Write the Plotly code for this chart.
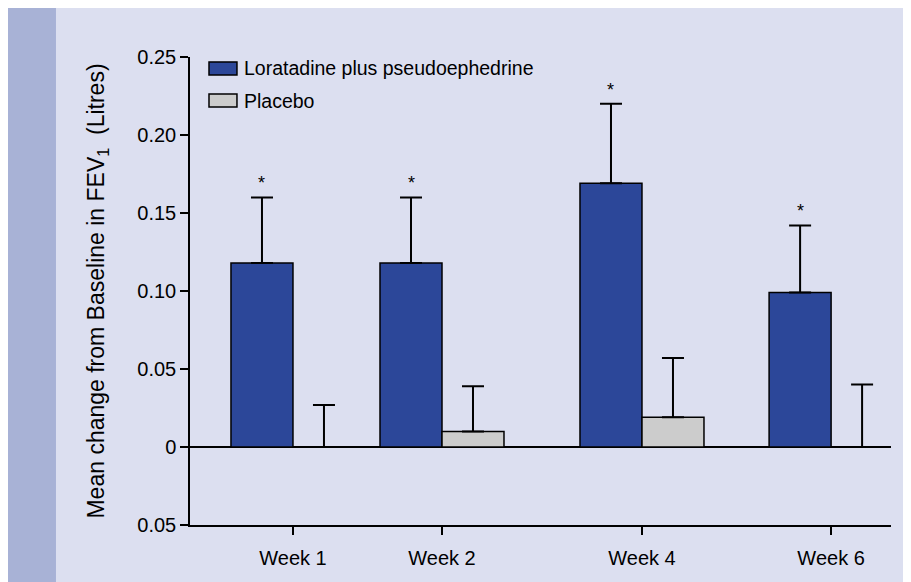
import plotly.graph_objects as go

weeks = ["Week 1", "Week 2", "Week 4", "Week 6"]
loratadine = [0.118, 0.118, 0.169, 0.099]
loratadine_err = [0.042, 0.042, 0.051, 0.043]
placebo = [0.0, 0.010, 0.019, 0.0]
placebo_err = [0.027, 0.029, 0.038, 0.040]
significant = [True, True, True, True]

y_tickvals = [-0.05, 0, 0.05, 0.10, 0.15, 0.20, 0.25]
y_ticktext = ["0.05", "0", "0.05", "0.10", "0.15", "0.20", "0.25"]

# group positions along x (weeks are not evenly spaced in the original)
week_pos = [1, 2, 3.342, 4.611]
bar_w = 0.416

BLUE = "#2c4799"
GREY = "#cccccc"
BG = "#dcdff0"
STRIP = "#a8b2d6"
FONT = "Liberation Sans, Arial, sans-serif"

fig = go.Figure()

fig.add_trace(go.Bar(
    x=week_pos, y=loratadine, width=bar_w, offset=-bar_w,
    name="Loratadine plus pseudoephedrine",
    marker=dict(color=BLUE, line=dict(color="black", width=1.5)),
    error_y=dict(type="data", symmetric=False, array=loratadine_err,
                 arrayminus=[0] * len(loratadine_err),
                 color="black", thickness=2, width=11),
))

fig.add_trace(go.Bar(
    x=week_pos, y=placebo, width=bar_w, offset=0,
    name="Placebo",
    marker=dict(color=GREY, line=dict(color="black", width=1.5)),
    error_y=dict(type="data", symmetric=False, array=placebo_err,
                 arrayminus=[0] * len(placebo_err),
                 color="black", thickness=2, width=11),
))

# significance stars above the active-treatment error bars
for p, v, e, s in zip(week_pos, loratadine, loratadine_err, significant):
    if s:
        fig.add_annotation(x=p - bar_w / 2, y=v + e, text="*", showarrow=False,
                           yanchor="bottom", yshift=2,
                           font=dict(size=18, color="black", family=FONT))

# darker strip on the left
shapes = [
    dict(type="rect", xref="paper", yref="paper", x0=-0.27, x1=-0.1912, y0=-0.2, y1=1.2,
         fillcolor=STRIP, line_width=0, layer="below"),
]

# custom legend with wide swatches
legend_items = [("Loratadine plus pseudoephedrine", BLUE), ("Placebo", GREY)]
for i, (label, col) in enumerate(legend_items):
    yc = 0.9755 - i * 0.0685
    shapes.append(dict(type="rect", xref="paper", yref="paper",
                       x0=0.0271, x1=0.067, y0=yc - 0.014, y1=yc + 0.014,
                       fillcolor=col, line=dict(color="black", width=1.5)))
    fig.add_annotation(xref="paper", yref="paper", x=0.0742, y=yc, text=label,
                       showarrow=False, xanchor="left", yanchor="middle",
                       font=dict(size=19.5, color="black", family=FONT))

fig.update_layout(
    width=911, height=582,
    margin=dict(l=182, r=28, t=49, b=65),
    paper_bgcolor=BG, plot_bgcolor=BG,
    barmode="overlay", showlegend=False,
    shapes=shapes,
    font=dict(family=FONT, color="black", size=20),
)

fig.update_xaxes(
    range=[0.309, 5.013], tickvals=week_pos, ticktext=weeks,
    showgrid=False, zeroline=False, showline=True, linecolor="black", linewidth=1.5,
    ticks="outside", ticklen=8, tickwidth=1.5, tickcolor="black",
    tickfont=dict(size=20), ticklabelstandoff=6,
)

fig.update_yaxes(
    range=[-0.05, 0.25], tickvals=y_tickvals, ticktext=y_ticktext,
    showgrid=False, zeroline=True, zerolinecolor="black", zerolinewidth=1.5,
    showline=True, linecolor="black", linewidth=1.5,
    ticks="outside", ticklen=8, tickwidth=1.5, tickcolor="black",
    tickfont=dict(size=20),
    title=dict(text="Mean change from Baseline in FEV<sub>1</sub>  (Litres)",
               font=dict(size=23), standoff=26),
)

fig.write_html("out.html")
